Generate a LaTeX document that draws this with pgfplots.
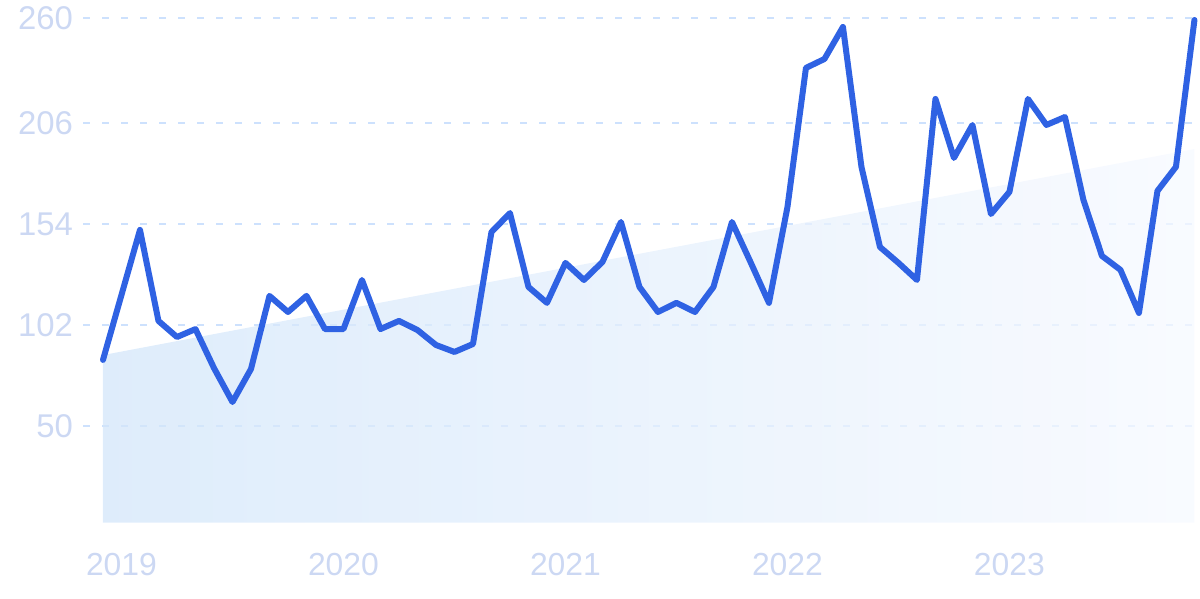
\documentclass[border=0pt]{standalone}
\usepackage{fontspec}
\setmainfont{Liberation Sans}
\usepackage{pgfplots}
\pgfplotsset{compat=1.18}
\definecolor{linec}{RGB}{47,98,227}
\definecolor{gridc}{RGB}{205,225,253}
\definecolor{labc}{RGB}{204,216,243}
\definecolor{fillA}{RGB}{211,230,250}
\definecolor{fillB}{RGB}{246,249,255}
\begin{document}
\begin{tikzpicture}
\useasboundingbox (0,0) rectangle (600bp,299.5bp);
\begin{axis}[
  at={(41.5bp,38.15bp)}, anchor=south west,
  scale only axis, width=558.5bp, height=261.35bp,
  xmin=-1.08, xmax=59.3, ymin=0, ymax=269.4,
  axis line style={draw=none},
  major tick length=0pt,
  ytick={50,102,154,206,260},
  xtick={1,13,25,37,49},
  xticklabels={2019,2020,2021,2022,2023},
  ymajorgrids, xmajorgrids=false,
  grid style={dash pattern=on 3.5bp off 6bp, line width=1bp, color=gridc},
  tick label style={font=\fontsize{16}{19}\selectfont, color=labc},
  yticklabel style={xshift=-1.5bp, font=\fontsize{16.5}{19}\selectfont},
  xticklabel style={yshift=-11.5bp},
  /pgf/number format/assume math mode=true,
  clip=false,
]
\addplot[draw=none, fill opacity=0.75, left color=fillA, right color=fillB] coordinates {(0,86.4) (59,192.6)} \closedcycle;
\addplot[linec, line width=3bp, line join=round, line cap=round] table {
x y
0 83.9
1 117.4
2 150.9
3 104.0
4 95.7
5 99.8
6 79.7
7 62.2
8 79.2
9 116.9
10 108.6
11 116.9
12 99.8
13 99.8
14 125.1
15 99.8
16 104.0
17 99.3
18 91.6
19 88.0
20 92.1
21 149.8
22 159.6
23 121.5
24 113.3
25 133.9
26 125.1
27 134.4
28 155.0
29 121.5
30 108.6
31 113.3
32 108.6
33 121.5
34 155.0
35 134.4
36 113.3
37 162.7
38 234.4
39 239.0
40 255.5
41 183.4
42 142.1
43 133.9
44 125.1
45 218.4
46 188.0
47 205.0
48 159.1
49 170.5
50 218.4
51 205.0
52 209.1
53 166.3
54 137.5
55 130.3
56 108.1
57 171.0
58 183.4
59 259.1
};
\end{axis}
\end{tikzpicture}
\end{document}
